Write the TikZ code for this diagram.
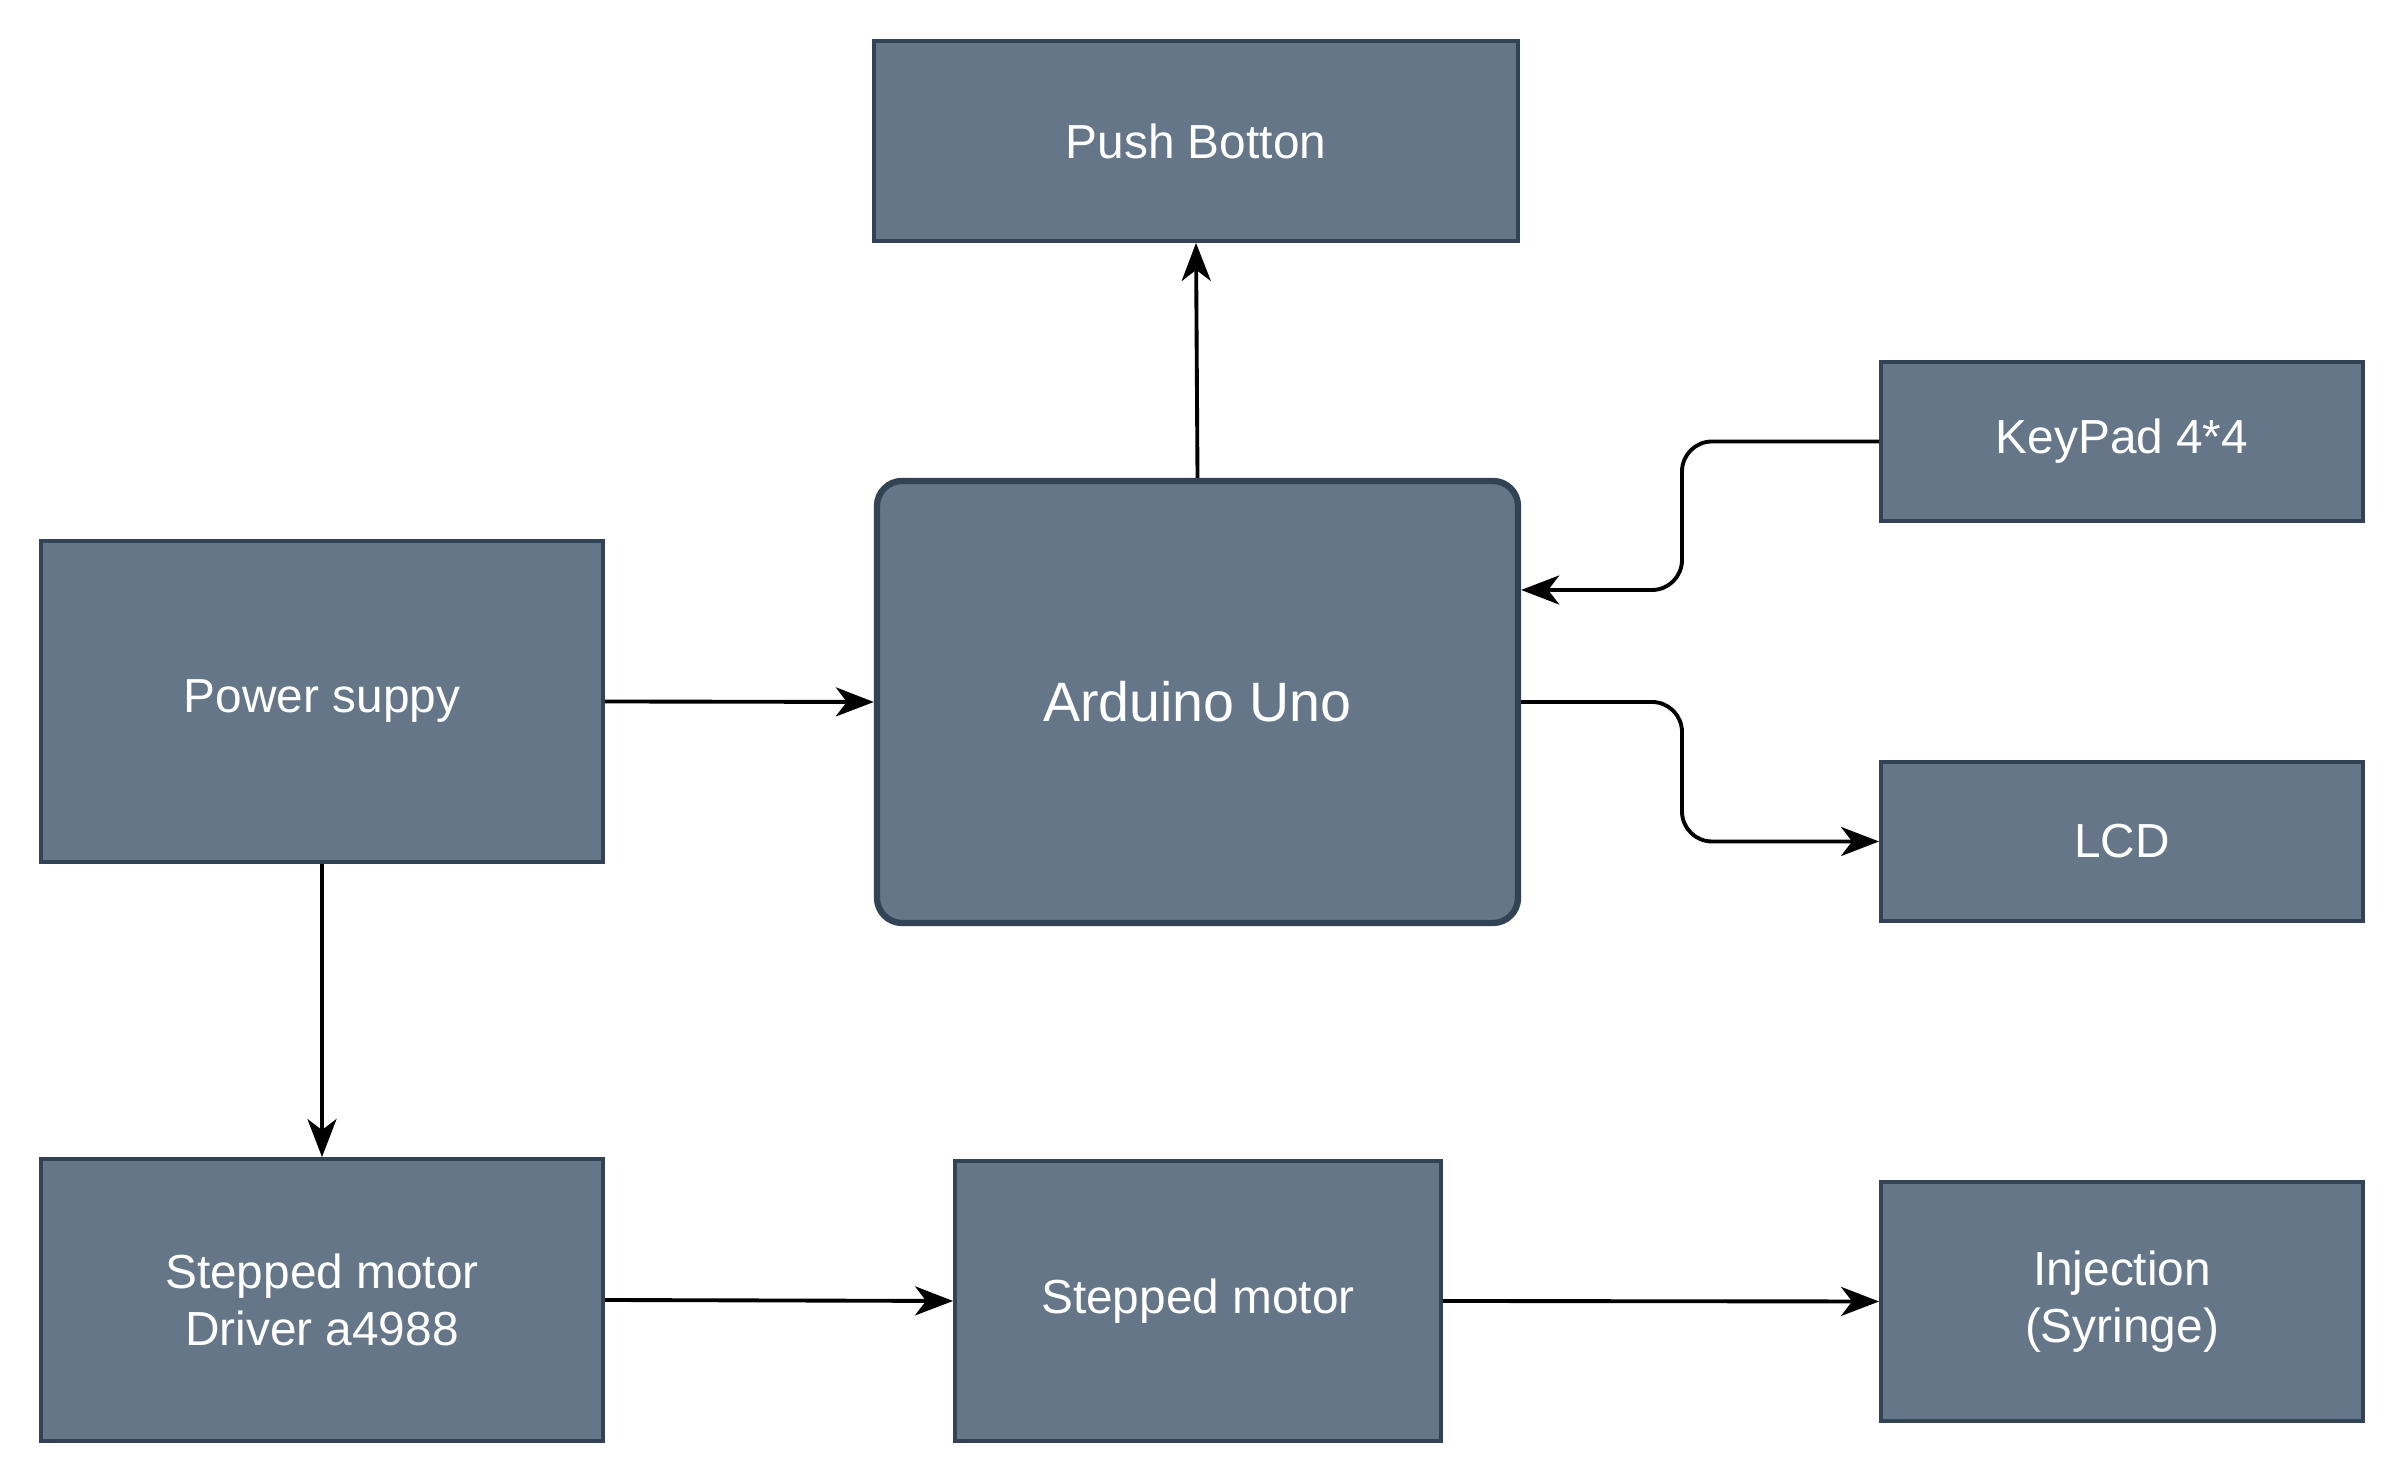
\documentclass[tikz,border=0pt]{standalone}
\usepackage{fontspec}
\setmainfont{Liberation Sans}
\usepackage{tikz}
\usetikzlibrary{arrows.meta}

\definecolor{slate}{HTML}{647687}
\definecolor{slateline}{HTML}{314354}

\tikzset{
	block/.style = {draw = slateline, fill = slate, line width = 1.1pt, text = white, inner sep = 0pt, align = center, font = \fontsize{13.6}{16.3}\selectfont},
	conn/.style = {line width = 1.1pt, -{Stealth[length = 0.38cm, width = 0.29cm, inset = 0.11cm]}}
}

\begin{document}
\begin{tikzpicture}
	\useasboundingbox (0,0) rectangle (24.04,14.84);
	\node [block, minimum width = 6.44cm, minimum height = 2cm] (push) at (11.96,13.43) {Push Botton};
	\node [block, minimum width = 4.82cm, minimum height = 1.59cm] (keypad) at (21.22,10.425) {KeyPad 4*4};
	\node [block, minimum width = 5.62cm, minimum height = 3.21cm] (power) at (3.22,7.825) {Power suppy};
	\node [block, minimum width = 6.41cm, minimum height = 4.42cm, rounded corners = 0.25cm, line width = 1.8pt, font = \fontsize{15.8}{19}\selectfont] (arduino) at (11.975,7.82) {Arduino Uno};
	\node [block, minimum width = 4.82cm, minimum height = 1.59cm] (lcd) at (21.22,6.425) {LCD};
	\node [block, minimum width = 5.62cm, minimum height = 2.82cm] (driver) at (3.22,1.84) {Stepped motor\\Driver a4988};
	\node [block, minimum width = 4.86cm, minimum height = 2.8cm] (motor) at (11.98,1.83) {Stepped motor};
	\node [block, minimum width = 4.82cm, minimum height = 2.39cm] (inject) at (21.22,1.825) {Injection\\(Syringe)};
	\draw [conn] (arduino.north) -- (push.south);
	\draw [conn, rounded corners = 0.3cm] (keypad.west) -- (16.82,10.425) |- ([yshift = 1.12cm]arduino.east);
	\draw [conn, rounded corners = 0.3cm] (arduino.east) -- (16.82,7.82) |- (lcd.west);
	\draw [conn] (power.east) -- (arduino.west);
	\draw [conn] (power.south) -- (driver.north);
	\draw [conn] (driver.east) -- (motor.west);
	\draw [conn] (motor.east) -- (inject.west);
\end{tikzpicture}
\end{document}
